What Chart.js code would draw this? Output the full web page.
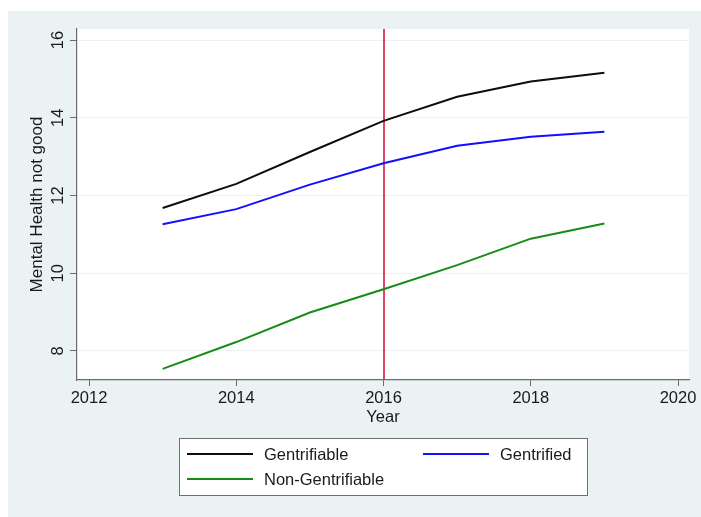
<!DOCTYPE html>
<html>
<head>
<meta charset="utf-8">
<script src="https://cdn.jsdelivr.net/npm/chart.js@4.4.1/dist/chart.umd.min.js"></script>
<style>
  html, body { margin: 0; padding: 0; background: #ffffff; }
  #wrap { width: 701px; height: 517px; }
</style>
</head>
<body>
<div id="wrap"><canvas id="chart" width="701" height="517"></canvas></div>
<script>
// Survey years and mean "mental health not good" values per tract group
const years = [2013, 2014, 2015, 2016, 2017, 2018, 2019];
const gentrifiable = [11.68, 12.30, 13.12, 13.92, 14.54, 14.93, 15.16];
const gentrified = [11.26, 11.65, 12.28, 12.83, 13.28, 13.51, 13.64];
const nonGentrifiable = [7.54, 8.23, 8.99, 9.59, 10.21, 10.89, 11.28];

const seriesNames = ['Gentrifiable', 'Gentrified', 'Non-Gentrifiable'];
const xTicks = [2012, 2014, 2016, 2018, 2020];
const yTicks = [8, 10, 12, 14, 16];
const treatmentYear = 2016;

const FONT = "'Liberation Sans', Arial, Helvetica, sans-serif";
const PAGE_BG = '#eaf2f3';
const AXIS = '#6b6b6b';

const toPoints = (vals) => years.map((y, i) => ({ x: y, y: vals[i] }));

// Light blue-grey page with a white plot region
const backgroundPlugin = {
  id: 'backgroundPlugin',
  beforeDraw(chart) {
    const { ctx, chartArea: a } = chart;
    ctx.save();
    ctx.fillStyle = '#ffffff';
    ctx.fillRect(0, 0, chart.width, chart.height);
    ctx.fillStyle = PAGE_BG;
    ctx.fillRect(8, 11, chart.width - 8, chart.height - 11);
    ctx.fillStyle = '#ffffff';
    ctx.fillRect(a.left, a.top, a.right - a.left, a.bottom - a.top);
    ctx.restore();
  }
};

// Vertical reference line at the treatment year
const refLinePlugin = {
  id: 'refLinePlugin',
  beforeDatasetsDraw(chart) {
    const { ctx, chartArea: a, scales } = chart;
    const x = Math.round(scales.x.getPixelForValue(treatmentYear));
    ctx.save();
    ctx.strokeStyle = '#dc4468';
    ctx.lineWidth = 2;
    ctx.beginPath();
    ctx.moveTo(x, a.top);
    ctx.lineTo(x, a.bottom);
    ctx.stroke();
    ctx.restore();
  }
};

// Boxed two-column legend below the x axis
const boxLegendPlugin = {
  id: 'boxLegendPlugin',
  afterDraw(chart) {
    const { ctx } = chart;
    const box = { x: 179.5, y: 438.5, w: 408, h: 57 };
    ctx.save();
    ctx.fillStyle = '#ffffff';
    ctx.fillRect(box.x, box.y, box.w, box.h);
    ctx.strokeStyle = '#707070';
    ctx.lineWidth = 1;
    ctx.strokeRect(box.x, box.y, box.w, box.h);
    const slots = [
      { lx: 187, ly: 454 },
      { lx: 423, ly: 454 },
      { lx: 187, ly: 479 }
    ];
    ctx.font = '16.5px ' + FONT;
    ctx.textBaseline = 'middle';
    ctx.textAlign = 'left';
    chart.data.datasets.forEach((ds, i) => {
      const s = slots[i];
      ctx.strokeStyle = ds.borderColor;
      ctx.lineWidth = 2;
      ctx.beginPath();
      ctx.moveTo(s.lx, s.ly);
      ctx.lineTo(s.lx + 66, s.ly);
      ctx.stroke();
      ctx.fillStyle = '#1a1a1a';
      ctx.fillText(ds.label, s.lx + 77, s.ly + 1);
    });
    ctx.restore();
  }
};

new Chart(document.getElementById('chart'), {
  type: 'line',
  data: {
    datasets: [
      { label: seriesNames[0], data: toPoints(gentrifiable), borderColor: '#0d0d0d' },
      { label: seriesNames[1], data: toPoints(gentrified), borderColor: '#1010ff' },
      { label: seriesNames[2], data: toPoints(nonGentrifiable), borderColor: '#168c16' }
    ]
  },
  options: {
    responsive: false,
    animation: false,
    devicePixelRatio: 1,
    layout: { padding: { left: 0, top: 29, right: 12, bottom: 0 } },
    elements: {
      point: { radius: 0, hoverRadius: 0 },
      line: { borderWidth: 2, tension: 0, fill: false }
    },
    plugins: {
      legend: { display: false },
      tooltip: { enabled: false }
    },
    scales: {
      x: {
        type: 'linear',
        min: 2011.837,
        max: 2020.149,
        afterBuildTicks: (scale) => { scale.ticks = xTicks.map(v => ({ value: v })); },
        afterFit: (scale) => { scale.height = 137; },
        border: { display: true, color: AXIS, width: 1.2 },
        grid: { drawOnChartArea: false, drawTicks: true, tickLength: 6, tickColor: AXIS, tickWidth: 1 },
        ticks: {
          callback: (v) => String(v),
          font: { family: FONT, size: 16.5 },
          color: '#1a1a1a',
          padding: 3,
          maxRotation: 0,
          autoSkip: false
        },
        title: {
          display: true,
          text: 'Year',
          font: { family: FONT, size: 16.5 },
          color: '#1a1a1a',
          padding: { top: 0, bottom: 90 }
        }
      },
      y: {
        type: 'linear',
        min: 7.254,
        max: 16.283,
        afterBuildTicks: (scale) => { scale.ticks = yTicks.map(v => ({ value: v })); },
        afterFit: (scale) => { scale.width = 77; },
        border: { display: true, color: AXIS, width: 1.2 },
        grid: { color: PAGE_BG, lineWidth: 1, drawTicks: true, tickLength: 7, tickColor: AXIS, tickWidth: 1 },
        ticks: {
          callback: (v) => String(v),
          font: { family: FONT, size: 16.5 },
          color: '#1a1a1a',
          padding: 2,
          minRotation: 90,
          maxRotation: 90,
          crossAlign: 'center',
          autoSkip: false
        },
        title: {
          display: true,
          text: 'Mental Health not good',
          font: { family: FONT, size: 17 },
          color: '#1a1a1a',
          padding: { top: 27, bottom: 0 }
        }
      }
    }
  },
  plugins: [backgroundPlugin, refLinePlugin, boxLegendPlugin]
});
</script>
</body>
</html>
